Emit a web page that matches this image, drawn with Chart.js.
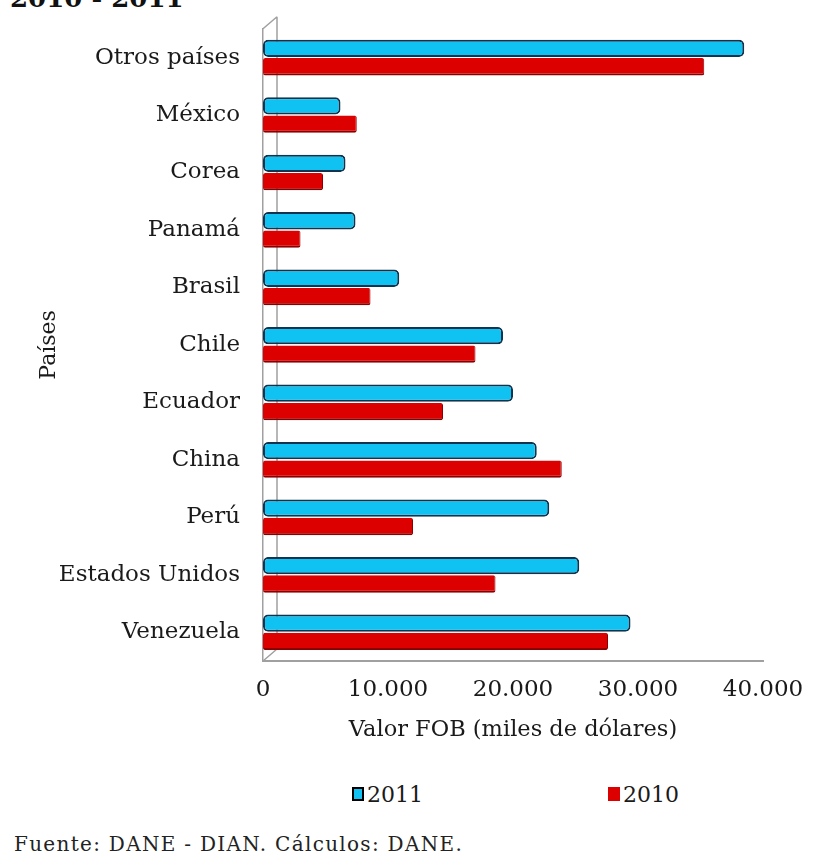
<!DOCTYPE html>
<html>
<head>
<meta charset="utf-8">
<script src="https://cdn.jsdelivr.net/npm/chart.js@4"></script>
<style>
 html, body { margin: 0; padding: 0; background: #fff; }
 #wrap { position: relative; width: 830px; height: 856px; overflow: hidden; }
 #title { position: absolute; left: 10px; top: -17px; font: bold 26px "DejaVu Serif", serif; color: #111; }
 #box { position: absolute; left: 0; top: 0; width: 830px; height: 760px; }
 #legend { position: absolute; top: 779px; left: 0; width: 830px; height: 30px; font: 22px "DejaVu Serif", serif; color: #1a1a1a; }
 .item { position: absolute; top: 0; display: flex; align-items: center; height: 30px; }
 .sw { width: 8px; height: 10px; margin-right: 3px; }
 #foot { position: absolute; left: 14px; top: 832px; font: 20px "DejaVu Serif", serif; color: #222; letter-spacing: 1.3px; }
</style>
</head>
<body>
<div id="wrap">
 <div id="title">2010 - 2011</div>
 <div id="box"><canvas id="fobChart"></canvas></div>
 <div id="legend"></div>
 <div id="foot">Fuente: DANE - DIAN. Cálculos: DANE.</div>
</div>
<script>
const countries = ['Otros países', 'México', 'Corea', 'Panamá', 'Brasil', 'Chile',
 'Ecuador', 'China', 'Perú', 'Estados Unidos', 'Venezuela'];
const values2011 = [38500, 6200, 6600, 7400, 10900, 19200, 20000, 21900, 22900, 25300, 29400];
const values2010 = [35300, 7500, 4800, 3000, 8600, 17000, 14400, 23900, 12000, 18600, 27600];
const xTicks = [0, 10000, 20000, 30000, 40000];

const serif = '"DejaVu Serif", serif';
const textCol = '#1a1a1a';

function fmtMiles(v) {
 return String(v).replace(/\B(?=(\d{3})+(?!\d))/g, '.');
}

// back wall line of the old 3D chart
const wallPlugin = {
 id: 'wall',
 beforeDatasetsDraw(chart) {
  const { ctx, chartArea } = chart;
  ctx.save();
  ctx.strokeStyle = '#a0a0a0';
  ctx.lineWidth = 1.5;
  ctx.beginPath();
  ctx.moveTo(chartArea.left + 14, chartArea.bottom - 12);
  ctx.lineTo(chartArea.left + 14, chartArea.top - 12);
  ctx.moveTo(chartArea.left, chartArea.top);
  ctx.lineTo(chartArea.left + 14, chartArea.top - 12);
  ctx.moveTo(chartArea.left, chartArea.bottom);
  ctx.lineTo(chartArea.left + 14, chartArea.bottom - 12);
  ctx.stroke();
  ctx.restore();
 }
};

// legend entries spread wide under the plot, like the original
function buildLegend(chart) {
 const el = document.getElementById('legend');
 const spots = [352, 608];
 chart.data.datasets.forEach((ds, i) => {
  const item = document.createElement('div');
  item.className = 'item';
  item.style.left = spots[i] + 'px';
  const sw = document.createElement('span');
  sw.className = 'sw';
  sw.style.background = ds.backgroundColor;
  sw.style.border = i === 0 ? '2px solid #000' : '2px solid ' + ds.backgroundColor;
  const tx = document.createElement('span');
  tx.textContent = ds.label;
  item.appendChild(sw);
  item.appendChild(tx);
  el.appendChild(item);
 });
}

const ctx = document.getElementById('fobChart').getContext('2d');
const chart = new Chart(ctx, {
 type: 'bar',
 data: {
  labels: countries,
  datasets: [{
   label: '2011',
   data: values2011,
   backgroundColor: '#0fc2f2',
   borderColor: '#12334d',
   borderWidth: 2,
   borderRadius: 5,
   borderSkipped: false,
   categoryPercentage: 0.64,
   barPercentage: 0.94
  }, {
   label: '2010',
   data: values2010,
   backgroundColor: '#dc0000',
   borderColor: '#8a0000',
   borderWidth: { top: 0, right: 1, bottom: 2, left: 0 },
   borderRadius: 2,
   borderSkipped: false,
   categoryPercentage: 0.64,
   barPercentage: 0.94
  }]
 },
 options: {
  indexAxis: 'y',
  responsive: true,
  maintainAspectRatio: false,
  animation: false,
  layout: { padding: { top: 25, right: 67, left: 0, bottom: 0 } },
  plugins: {
   legend: { display: false },
   tooltip: { enabled: false }
  },
  scales: {
   x: {
    min: 0,
    max: 40000,
    afterBuildTicks(scale) { scale.ticks = xTicks.map(v => ({ value: v })); },
    afterFit(scale) { scale.height = 99; },
    grid: { display: false, drawTicks: true, tickLength: 6, color: '#a0a0a0' },
    border: { display: true, color: '#a0a0a0', width: 2 },
    ticks: {
     color: textCol,
     font: { family: serif, size: 23 },
     padding: 9,
     callback: v => fmtMiles(v)
    },
    title: {
     display: true,
     text: 'Valor FOB (miles de dólares)',
     color: textCol,
     font: { family: serif, size: 22.5 },
     padding: { top: 4, bottom: 16 }
    }
   },
   y: {
    afterFit(scale) { scale.width = 263; },
    grid: { display: false },
    border: { display: true, color: '#a0a0a0', width: 1.5 },
    ticks: {
     color: textCol,
     font: { family: serif, size: 23 },
     padding: 15
    },
    title: {
     display: true,
     text: 'Países',
     color: textCol,
     font: { family: serif, size: 22 },
     padding: { top: 36, bottom: 0 }
    }
   }
  }
 },
 plugins: [wallPlugin]
});
buildLegend(chart);
</script>
</body>
</html>
